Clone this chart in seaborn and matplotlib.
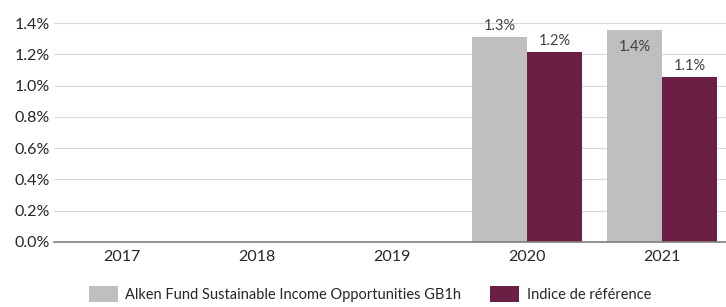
import numpy as np
import pandas as pd
import matplotlib
matplotlib.use("Agg")
import matplotlib.pyplot as plt
import seaborn as sns

# ── data ─────────────────────────────────────────────
years = ["2017", "2018", "2019", "2020", "2021"]
fund = [np.nan, np.nan, np.nan, 1.31, 1.355]
bench = [np.nan, np.nan, np.nan, 1.215, 1.055]
fund_labels = ["", "", "", "1.3%", "1.4%"]
bench_labels = ["", "", "", "1.2%", "1.1%"]
series = ["Alken Fund Sustainable Income Opportunities GB1h", "Indice de référence"]

df = pd.DataFrame({
    "Year": years * 2,
    "Value": fund + bench,
    "Series": [series[0]] * 5 + [series[1]] * 5,
})

sns.set_style("white")
plt.rcParams["font.family"] = ["Lato", "DejaVu Sans"]

fig = plt.figure(figsize=(7.26, 3.07), dpi=100)
ax = fig.add_axes([0.075, 0.212, 0.930, 0.713])

sns.barplot(data=df, x="Year", y="Value", hue="Series",
            palette=["#BFBFBF", "#6B1F45"], width=0.815,
            saturation=1, linewidth=0, ax=ax, legend=True)


def label_bars(container, labels, inside_last=False):
    for bar in container:
        if bar is None:
            continue
        x = bar.get_x() + bar.get_width() / 2
        i = int(round(x))
        lab = labels[i]
        if not lab:
            continue
        inside = inside_last and i == len(labels) - 1
        off = -17 if inside else 3
        ax.annotate(lab, (x, bar.get_height()), xytext=(0, off),
                    textcoords="offset points", ha="center", va="bottom",
                    fontsize=10.5, color="#404040")


label_bars(ax.containers[0], fund_labels, inside_last=True)
label_bars(ax.containers[1], bench_labels)

ax.set_ylim(0, 1.4)
ax.set_yticks(np.arange(0, 1.41, 0.2))
ax.yaxis.set_major_formatter(plt.FuncFormatter(lambda v, p: f"{v:.1f}%"))
ax.set_xlabel("")
ax.set_ylabel("")
ax.grid(axis="y", color="#D9D9D9", linewidth=0.8)
ax.set_axisbelow(True)
for s in ["top", "right", "left"]:
    ax.spines[s].set_visible(False)
ax.spines["bottom"].set_color("#7F7F7F")
ax.spines["bottom"].set_linewidth(1.2)
ax.tick_params(axis="both", length=0, labelsize=11.5, colors="#262626")
ax.tick_params(axis="x", pad=6)

ax.legend(loc="lower center", bbox_to_anchor=(0.467, -0.335), ncol=2, frameon=False,
          fontsize=10.5, handlelength=2.0, handleheight=1.3, handletextpad=0.5,
          columnspacing=2.0)

plt.savefig("out.png", dpi=100)
